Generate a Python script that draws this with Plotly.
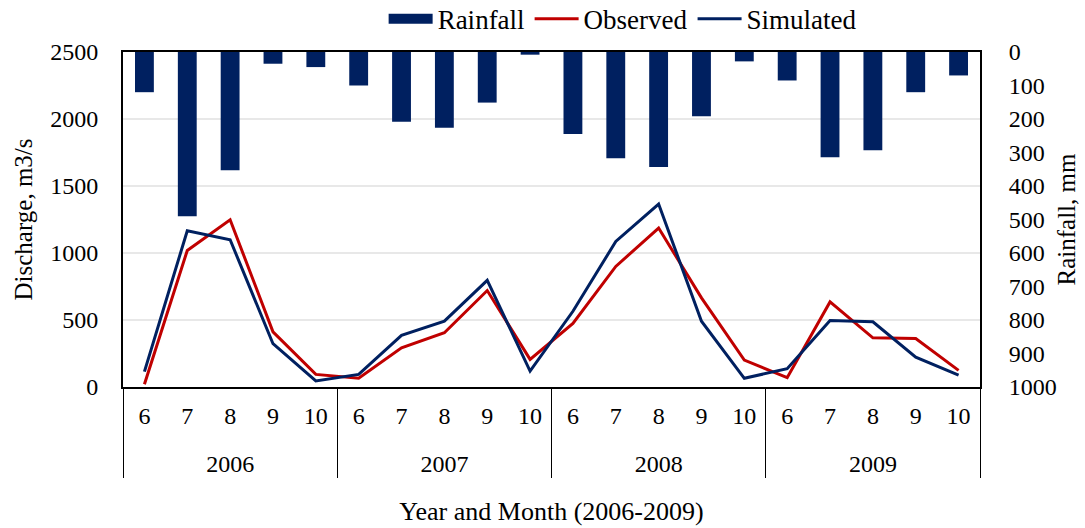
import plotly.graph_objects as go

# Year / month category levels
years = ["2006"] * 5 + ["2007"] * 5 + ["2008"] * 5 + ["2009"] * 5
months = ["6", "7", "8", "9", "10"] * 4

# Monthly rainfall (mm)
rainfall = [120, 490, 353, 35, 45,
            100, 208, 226, 151, 8,
            245, 317, 343, 192, 28,
            85, 314, 293, 120, 70]

# Observed discharge (m3/s)
observed = [20, 1019, 1248, 412, 94,
            65, 293, 405, 720, 206,
            474, 900, 1186, 665, 201,
            70, 635, 367, 362, 124]

# Simulated discharge (m3/s)
simulated = [115, 1166, 1099, 323, 45,
             94, 385, 491, 796, 119,
             565, 1086, 1365, 491, 65,
             137, 496, 487, 223, 89]

NAVY = "#002060"
RED = "#C00000"
FONT = "Liberation Serif, Times New Roman, serif"

# month labels carry a blank second line so the year row sits lower
month_text = [m + "<br><span style='font-size:1px'> </span>" for m in months]
x = [years, month_text]

fig = go.Figure()
fig.add_trace(go.Bar(x=x, y=rainfall, name="Rainfall", yaxis="y2",
                     marker=dict(color=NAVY, line=dict(width=0)), width=0.44,
                     legendgroup="rain", showlegend=False))
# wide swatch for the rainfall legend entry
fig.add_trace(go.Scatter(x=[None], y=[None], name="Rainfall", mode="lines",
                         legendgroup="rain", line=dict(color=NAVY, width=13)))
fig.add_trace(go.Scatter(x=x, y=observed, name="Observed", mode="lines",
                         line=dict(color=RED, width=3)))
fig.add_trace(go.Scatter(x=x, y=simulated, name="Simulated", mode="lines",
                         line=dict(color=NAVY, width=3)))

fig.update_layout(
    width=1085, height=528,
    margin=dict(l=123, r=105, t=52, b=141, autoexpand=False),
    paper_bgcolor="white", plot_bgcolor="white",
    font=dict(family=FONT, size=24, color="black"),
    showlegend=True,
    legend=dict(orientation="h", x=0.583, xanchor="center",
                y=1.098, yanchor="middle",
                font=dict(size=27), traceorder="normal",
                itemwidth=44, bgcolor="rgba(0,0,0,0)"),
    xaxis=dict(
        type="multicategory",
        showline=True, linecolor="black", linewidth=2, mirror=True,
        showdividers=True, dividercolor="black", dividerwidth=1,
        ticks="", showgrid=False, ticklabelstandoff=6,
        tickfont=dict(size=24),
        title=dict(text="Year and Month (2006-2009)", font=dict(size=26), standoff=26),
    ),
    yaxis=dict(
        range=[0, 2500], dtick=500,
        showline=True, linecolor="black", linewidth=2, mirror=False,
        showgrid=True, gridcolor="#E8E8E8", gridwidth=1.5,
        zeroline=False, ticks="", tickfont=dict(size=24),
        ticklabelstandoff=18,
        title=dict(text="Discharge, m3/s", font=dict(size=25), standoff=10),
    ),
    yaxis2=dict(
        overlaying="y", side="right", range=[1000, 0], dtick=100,
        showline=True, linecolor="black", linewidth=2,
        showgrid=False, zeroline=False, ticks="", tickfont=dict(size=24),
        ticklabelstandoff=22,
        title=dict(text="Rainfall, mm", font=dict(size=25), standoff=2),
    ),
    bargap=0.5,
)

fig.write_html("out.html")
